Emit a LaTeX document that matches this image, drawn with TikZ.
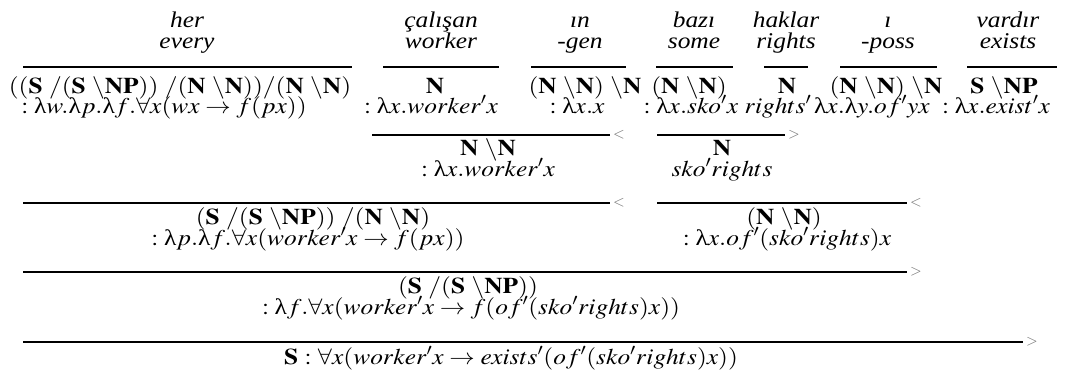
\documentclass[tikz,border=0pt]{standalone}
\usepackage{mathptmx}
\usepackage{fontspec}
\setmainfont{Liberation Serif}
\usepackage{graphicx}
\newcommand{\hx}[1]{\scalebox{1.13}[1]{#1}}
\newcommand{\cb}[1]{\mathbf{#1}}
\newcommand{\bsl}{\ \backslash}
\newcommand{\lam}{\mbox{\upshape λ}}
\begin{document}
\begin{tikzpicture}[x=1pt,y=-1pt,
  txt/.style={anchor=base,inner sep=0pt,outer sep=0pt,font=\fontsize{22.5}{22.5}\selectfont},
  wd/.style={txt,font=\fontsize{22.5}{22.5}\selectfont\itshape},
  rl/.style={line width=2.2pt},
  mk/.style={anchor=west,inner sep=0pt,outer sep=0pt,text=black!55,font=\fontsize{15}{15}\selectfont}]
\useasboundingbox (0,0) rectangle (1075,376);

% ---- lexical words
\node[wd] (w1a) at (187,27) {\hx{her}};
\node[wd] (w1b) at (187,48) {\hx{every}};
\node[wd] (w2a) at (441,27) {\hx{çalışan}};
\node[wd] (w2b) at (441,48) {\hx{worker}};
\node[wd] (w3a) at (580,27) {\hx{ın}};
\node[wd] (w3b) at (580,48) {\hx{-gen}};
\node[wd] (w4a) at (694,27) {\hx{bazı}};
\node[wd] (w4b) at (694,48) {\hx{some}};
\node[wd] (w5a) at (786,27) {\hx{haklar}};
\node[wd] (w5b) at (786,48) {\hx{rights}};
\node[wd] (w6a) at (888,27) {\hx{ı}};
\node[wd] (w6b) at (888,48) {\hx{-poss}};
\node[wd] (w7a) at (1008,27) {\hx{vardır}};
\node[wd] (w7b) at (1008,48) {\hx{exists}};

% ---- lexical rules
\draw[rl] (23,67) -- (352,67);
\draw[rl] (383,67) -- (499,67);
\draw[rl] (531,67) -- (626,67);
\draw[rl] (656,67) -- (733,67);
\draw[rl] (764,67) -- (808,67);
\draw[rl] (840,67) -- (937,67);
\draw[rl] (967,67) -- (1057,67);

% ---- lexical categories
\node[txt] (c1) at (180,93) {\hx{$\cb{((S}\ /\cb{(S}\bsl\cb{NP))}\ /\cb{(N}\bsl\cb{N))}/\cb{(N}\bsl\cb{N)}$}};
\node[txt] (c2) at (435,93) {\hx{$\cb{N}$}};
\node[txt] (c3) at (585,93) {\hx{$\cb{(N}\bsl\cb{N)}\bsl\cb{N}$}};
\node[txt] (c4) at (689,93) {\hx{$\cb{(N}\bsl\cb{N)}$}};
\node[txt] (c5) at (787,93) {\hx{$\cb{N}$}};
\node[txt] (c6) at (886,93) {\hx{$\cb{(N}\bsl\cb{N)}\bsl\cb{N}$}};
\node[txt] (c7) at (1004,93) {\hx{$\cb{S}\bsl\cb{NP}$}};

% ---- lexical semantics
\node[txt] (s1) at (164,113) {\hx{$:\lam w.\lam p.\lam f.\forall x(wx\rightarrow f(px))$}};
\node[txt] (s2) at (431,113) {\hx{$:\lam x.worker'x$}};
\node[txt] (s3) at (577,113) {\hx{$:\lam x.x$}};
\node[txt] (s4) at (691,113) {\hx{$:\lam x.sko'x$}};
\node[txt] (s5) at (778,113) {\hx{$rights'$}};
\node[txt] (s6) at (872,113) {\hx{$\lam x.\lam y.of'yx$}};
\node[txt] (s7) at (996,113) {\hx{$:\lam x.exist'x$}};

% ---- row 2
\draw[rl] (372,135) -- (610,135) node[mk,xshift=3pt] (m1) {$<$};
\draw[rl] (657,135) -- (785,135) node[mk,xshift=3pt] (m2) {$>$};
\node[txt] (c8) at (488,155) {\hx{$\cb{N}\bsl\cb{N}$}};
\node[txt] (s8) at (488,176) {\hx{$:\lam x.worker'x$}};
\node[txt] (c9) at (722,155) {\hx{$\cb{N}$}};
\node[txt] (s9) at (722,176) {\hx{$sko'rights$}};

% ---- row 3
\draw[rl] (23,203) -- (610,203) node[mk,xshift=3pt] (m3) {$<$};
\draw[rl] (657,203) -- (907,203) node[mk,xshift=3pt] (m4) {$<$};
\node[txt] (c10) at (313,224) {\hx{$\cb{(S}\ /\cb{(S}\bsl\cb{NP))}\ /\cb{(N}\bsl\cb{N)}$}};
\node[txt] (s10) at (308,245) {\hx{$:\lam p.\lam f.\forall x(worker'x\rightarrow f(px))$}};
\node[txt] (c11) at (784,224) {\hx{$\cb{(N}\bsl\cb{N)}$}};
\node[txt] (s11) at (787,245) {\hx{$:\lam x.of'(sko'rights)x$}};

% ---- row 4
\draw[rl] (23,272) -- (907,272) node[mk,xshift=3pt] (m5) {$>$};
\node[txt] (c12) at (468,293) {\hx{$\cb{(S}\ /\cb{(S}\bsl\cb{NP))}$}};
\node[txt] (s12) at (471,314) {\hx{$:\lam f.\forall x(worker'x\rightarrow f(of'(sko'rights)x))$}};

% ---- row 5
\draw[rl] (23,342) -- (1023,342) node[mk,xshift=3pt] (m6) {$>$};
\node[txt] (c13) at (511,364) {\hx{$\cb{S}\ \cb{:}\ \forall x(worker'x\rightarrow exists'(of'(sko'rights)x))$}};
\end{tikzpicture}
\end{document}
